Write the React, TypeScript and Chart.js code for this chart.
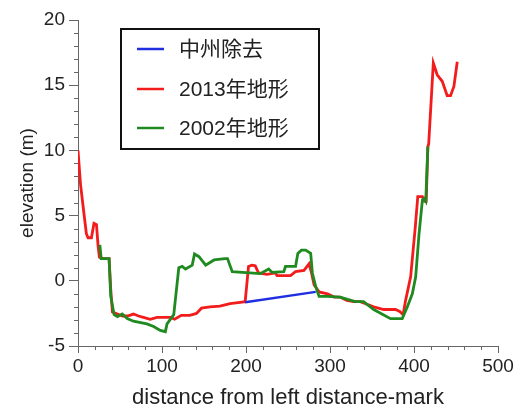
import React, { useEffect, useRef } from "react";
import { Chart, registerables } from "chart.js";

Chart.register(...registerables);

// ---- data ----
const seriesNames = ["中州除去", "2013年地形", "2002年地形"];
const seriesColors = ["#1f2fe0", "#f21c1c", "#1f8a1f"];

const blueX = [199, 283];
const blueY = [-1.65, -0.85];

const redX = [0, 3, 7, 10, 12, 16, 19, 22, 24, 25.5, 30, 37, 39, 41, 47, 53, 59, 66, 72, 78, 86, 94, 102, 110, 115, 123, 133, 141, 147, 157, 169, 181, 193, 199, 203, 207, 211, 215, 225, 235, 237, 253, 259, 269, 275, 278, 281, 287, 297, 305, 312, 320, 328, 336, 344, 352, 364, 378, 383, 387, 390, 396, 398.6, 401.5, 404.5, 410, 412.5, 414.5, 416.5, 417.5, 423, 427.6, 433.6, 439.5, 443.5, 447.5, 451.5];
const redY = [10, 7.4, 5.2, 3.6, 3.3, 3.3, 4.4, 4.3, 2.6, 1.8, 1.7, 1.7, -0.7, -2.4, -2.55, -2.7, -2.7, -2.55, -2.7, -2.8, -2.95, -2.8, -2.8, -2.8, -2.95, -2.65, -2.65, -2.5, -2.1, -2.0, -1.95, -1.75, -1.65, -1.6, 1.1, 1.2, 1.15, 0.6, 0.5, 0.6, 0.4, 0.4, 0.7, 0.8, 1.3, 0.6, -0.3, -0.85, -1.0, -1.25, -1.25, -1.5, -1.6, -1.6, -1.8, -2.0, -2.2, -2.2, -2.35, -2.6, -1.5, 0.3, 2.1, 4.1, 6.45, 6.45, 6.1, 6.1, 10.3, 10.5, 16.7, 15.8, 15.3, 14.2, 14.2, 14.9, 16.8];

const greenX = [26, 27.6, 37, 39, 43, 47, 52.6, 58.6, 66, 82, 90, 98, 104, 106, 114, 120, 124, 128, 136, 138.7, 144, 152, 162, 175, 178, 183.6, 217, 227, 231, 245, 247, 259, 261.7, 266, 271, 277, 279, 283, 287, 297, 312, 330, 340, 352, 372, 386, 392, 398, 402, 406, 410, 412, 414, 416.5];
const greenY = [2.75, 1.7, 1.7, -1.2, -2.6, -2.75, -2.55, -2.9, -3.1, -3.3, -3.5, -3.8, -3.9, -3.3, -2.6, 1.0, 1.1, 0.9, 1.2, 2.05, 1.85, 1.2, 1.6, 1.7, 1.7, 0.7, 0.55, 0.9, 0.65, 0.7, 1.1, 1.1, 2.1, 2.35, 2.35, 2.1, 0.6, -0.45, -1.2, -1.2, -1.25, -1.6, -1.6, -2.2, -2.9, -2.9, -2.0, -1.0, 0.3, 3.6, 6.2, 6.3, 6.1, 10.3];

const xMin = 0, xMax = 500, xMajor = 100, xMinorStep = 20;
const yMin = -5, yMax = 20, yMajor = 5, yMinorStep = 1;
const xTitle = "distance from left distance-mark";
const yTitle = "elevation (m)";

const toPts = (xs: number[], ys: number[]) => xs.map((x, i) => ({ x, y: ys[i] }));

const AXIS_COLOR = "#666";
const TEXT_COLOR = "#222";
const FONT = "'Liberation Sans', Arial, sans-serif";

const minorTicksPlugin = {
  id: "minorTicks",
  afterDraw(chart: any) {
    const { ctx, chartArea, scales } = chart;
    const x = scales.x, y = scales.y;
    ctx.save();
    ctx.strokeStyle = AXIS_COLOR;
    ctx.lineWidth = 1;
    ctx.beginPath();
    for (let v = xMin; v <= xMax; v += xMinorStep) {
      if (v % xMajor === 0) continue;
      const px = Math.round(x.getPixelForValue(v)) + 0.5;
      ctx.moveTo(px, chartArea.bottom);
      ctx.lineTo(px, chartArea.bottom + 4);
    }
    for (let v = yMin; v <= yMax; v += yMinorStep) {
      if (v % yMajor === 0) continue;
      const py = Math.round(y.getPixelForValue(v)) + 0.5;
      ctx.moveTo(chartArea.left, py);
      ctx.lineTo(chartArea.left - 4, py);
    }
    ctx.stroke();
    ctx.restore();
  },
};

const legendBoxPlugin = {
  id: "legendBox",
  afterDraw(chart: any) {
    const { ctx } = chart;
    ctx.save();
    ctx.strokeStyle = "#111";
    ctx.lineWidth = 2;
    ctx.strokeRect(121, 29, 198, 120);
    const rows = [49, 89, 128];
    rows.forEach((ry, i) => {
      ctx.strokeStyle = seriesColors[i];
      ctx.lineWidth = 2.5;
      ctx.beginPath();
      ctx.moveTo(137, ry);
      ctx.lineTo(164, ry);
      ctx.stroke();
      ctx.fillStyle = TEXT_COLOR;
      ctx.font = "21px 'Liberation Sans', 'Noto Sans CJK JP', sans-serif";
      ctx.textBaseline = "middle";
      ctx.textAlign = "left";
      ctx.fillText(seriesNames[i], 179, ry + 1);
    });
    ctx.restore();
  },
};

export default function App() {
  const ref = useRef<HTMLCanvasElement | null>(null);
  useEffect(() => {
    if (!ref.current) return;
    const chart = new Chart(ref.current, {
      type: "line",
      data: {
        datasets: [
          { label: seriesNames[0], data: toPts(blueX, blueY), borderColor: seriesColors[0], borderWidth: 2.5, pointRadius: 0, order: 0, tension: 0 },
          { label: seriesNames[1], data: toPts(redX, redY), borderColor: seriesColors[1], borderWidth: 2.8, pointRadius: 0, order: 2, tension: 0 },
          { label: seriesNames[2], data: toPts(greenX, greenY), borderColor: seriesColors[2], borderWidth: 2.8, pointRadius: 0, order: 1, tension: 0 },
        ],
      },
      options: {
        animation: false,
        responsive: false,
        devicePixelRatio: 1,
        layout: { padding: { left: 0, right: 23, top: 20, bottom: 0 } },
        plugins: { legend: { display: false }, tooltip: { enabled: false } },
        scales: {
          x: {
            type: "linear",
            min: xMin,
            max: xMax,
            afterFit: (s: any) => { s.height = 66; },
            ticks: { stepSize: xMajor, autoSkip: false, maxRotation: 0, color: TEXT_COLOR, font: { family: FONT, size: 19 }, padding: 2 },
            grid: { display: true, drawOnChartArea: false, drawTicks: true, tickLength: 7, color: AXIS_COLOR },
            border: { display: true, color: AXIS_COLOR, width: 1 },
            title: { display: true, text: xTitle, color: TEXT_COLOR, font: { family: FONT, size: 22 }, padding: { top: 0, bottom: 1 } },
          },
          y: {
            type: "linear",
            min: yMin,
            max: yMax,
            afterFit: (s: any) => { s.width = 78; },
            ticks: { stepSize: yMajor, autoSkip: false, color: TEXT_COLOR, font: { family: FONT, size: 19 }, padding: 4 },
            grid: { display: true, drawOnChartArea: false, drawTicks: true, tickLength: 9, color: AXIS_COLOR },
            border: { display: true, color: AXIS_COLOR, width: 1 },
            title: { display: true, text: yTitle, color: TEXT_COLOR, font: { family: FONT, size: 19 }, padding: { top: 16, bottom: 0 } },
          },
        },
      },
      plugins: [minorTicksPlugin, legendBoxPlugin],
    } as any);
    return () => chart.destroy();
  }, []);
  return (
    <div style={{ position: "absolute", left: 0, top: 0, width: 521, height: 412, background: "#fff" }}>
      <canvas ref={ref} width={521} height={412} style={{ display: "block", width: 521, height: 412 }} />
    </div>
  );
}
